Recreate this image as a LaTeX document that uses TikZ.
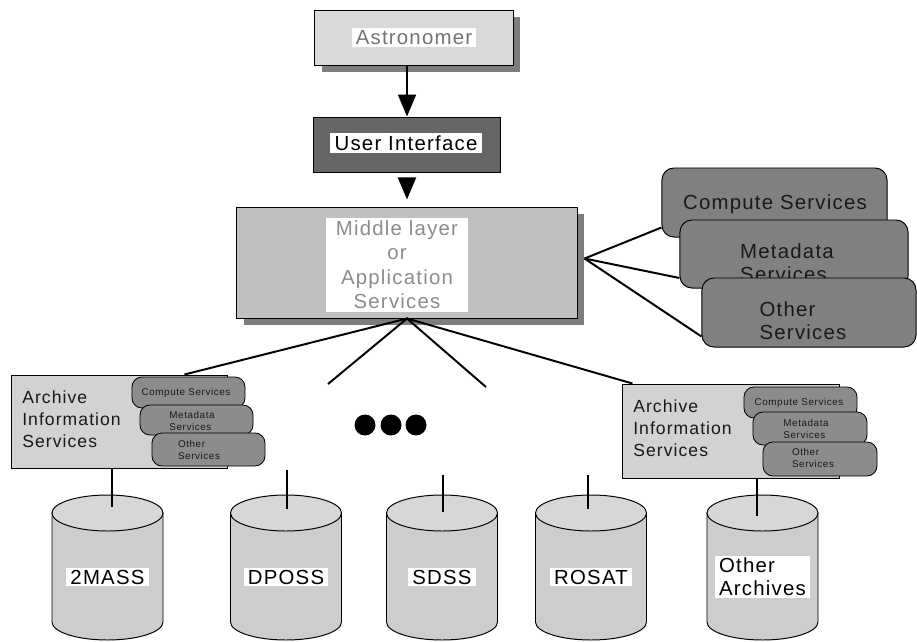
\documentclass[tikz,border=0pt]{standalone}
\usepackage{fontspec}
\setmainfont{Liberation Sans}[LetterSpace=6]
\usetikzlibrary{arrows.meta, shadows, calc}
\definecolor{aback}{RGB}{217,217,217}
\definecolor{ashadow}{RGB}{125,125,125}
\definecolor{uidark}{RGB}{102,102,102}
\definecolor{midgrey}{RGB}{192,192,192}
\definecolor{midtext}{RGB}{140,140,140}
\definecolor{svcgrey}{RGB}{128,128,128}
\definecolor{arclight}{RGB}{210,210,210}
\definecolor{pillgrey}{RGB}{140,140,140}
\definecolor{dbgrey}{RGB}{205,205,205}

\tikzset{
  layerbox/.style={draw=black, line width=0.7pt, rectangle, inner sep=0pt},
  shadowed/.style={general shadow={fill=ashadow, shadow xshift=1.75mm, shadow yshift=-1.75mm}},
  whitelabel/.style={fill=white, inner xsep=3pt, inner ysep=1.5pt, align=center},
  svcbox/.style={draw=black, line width=0.7pt, fill=svcgrey, rounded corners=3mm, inner sep=0pt},
  pill/.style={draw=black, line width=0.6pt, fill=pillgrey, rounded corners=2.5mm, inner sep=0pt},
  pilltext/.style={inner sep=0pt, align=left, text=black!90, font=\fontsize{7}{8}\selectfont},
  svctext/.style={inner sep=0pt, align=left, text=black!90, font=\fontsize{14.5}{16.5}\selectfont},
  arctext/.style={inner sep=0pt, align=left, anchor=north west, text=black!90, font=\fontsize{12.5}{15.8}\selectfont},
  link/.style={line width=1.4pt},
  flow/.style={line width=1.4pt, -{Triangle[width=4.5mm, length=5.5mm]}},
}

\begin{document}
\begin{tikzpicture}[x=0.025cm, y=-0.025cm]
    \useasboundingbox (0,0) rectangle (917,641);

    % astronomer
    \node[layerbox, shadowed, fill=aback, minimum width=4.95cm, minimum height=1.375cm] (astro) at (414,37.5) {};
    \node[whitelabel, text=black!55, font=\fontsize{14.5}{16}\selectfont] (astro txt) at (astro) {Astronomer};

    % user interface
    \node[layerbox, fill=uidark, minimum width=4.65cm, minimum height=1.375cm] (ui) at (407,144.5) {};
    \node[whitelabel, font=\fontsize{14.5}{16}\selectfont] (ui txt) at (406,143) {User Interface};

    % middle layer
    \node[layerbox, shadowed, fill=midgrey, minimum width=8.5cm, minimum height=2.775cm] (middle) at (407,262.5) {};
    \node[whitelabel, inner xsep=7pt, inner ysep=2pt, text=midtext, font=\fontsize{14.5}{17.4}\selectfont] (middle txt) at (397,264.5) {Middle layer\\or\\Application\\Services};

    % arrows
    \draw[flow] (astro.south -| ui.north) -- (ui.north);
    \draw[flow, shorten <=1.25mm, shorten >=1.75mm] (ui.south) -- (middle.north);

    % services on the right
    \node[svcbox, minimum width=5.625cm, minimum height=1.725cm] (comp) at (774.5,202.5) {};
    \node[svctext] (comp txt) at (775,204) {Compute Services};
    \node[svcbox, minimum width=5.7cm, minimum height=1.7cm] (meta) at (794,254) {};
    \node[svctext] (meta txt) at (787,263) {Metadata\\Services};
    \node[svcbox, minimum width=5.35cm, minimum height=1.725cm] (other) at (809,312.5) {};
    \node[svctext] (other txt) at (803,321) {Other\\Services};

    \coordinate (mid r) at ($(middle.east)+(7,-4)$);
    \draw[link] (mid r) -- ($(comp.west)+(0,25)$);
    \draw[link] (mid r) -- ($(meta.west)+(0,24)$);
    \draw[link] (mid r) -- ($(other.west)+(0,24)$);

    % left archive
    \node[layerbox, fill=arclight, minimum width=5.375cm, minimum height=2.325cm] (arcL) at (119.5,421.5) {};
    \node[arctext] (arcL txt) at (22,390) {Archive\\Information\\Services};
    \node[pill, minimum width=2.825cm, minimum height=0.775cm] (compL) at (188.5,392.5) {};
    \node[pilltext] (compL txt) at (186,393) {Compute Services};
    \node[pill, minimum width=2.825cm, minimum height=0.75cm] (metaL) at (196.5,420) {};
    \node[pilltext] (metaL txt) at (192,421) {Metadata\\Services};
    \node[pill, minimum width=2.825cm, minimum height=0.825cm] (othL) at (208.5,449.5) {};
    \node[pilltext] (othL txt) at (199,450) {Other\\Services};

    % right archive
    \node[layerbox, fill=arclight, minimum width=5.4cm, minimum height=2.35cm] (arcR) at (731,431) {};
    \node[arctext] (arcR txt) at (633,399) {Archive\\Information\\Services};
    \node[pill, minimum width=2.825cm, minimum height=0.775cm] (compR) at (800.5,402.5) {};
    \node[pilltext] (compR txt) at (799,403) {Compute Services};
    \node[pill, minimum width=2.85cm, minimum height=0.825cm] (metaR) at (810,428.5) {};
    \node[pilltext] (metaR txt) at (806,429) {Metadata\\Services};
    \node[pill, minimum width=2.85cm, minimum height=0.85cm] (othR) at (820,459) {};
    \node[pilltext] (othR txt) at (813,458) {Other\\Services};

    % fan out to the archives
    \coordinate (gap1) at (328,384);
    \coordinate (gap2) at (486,387);
    \draw[link] ($(arcL.north west)+(173,0)$) -- (middle.south) -- ($(arcR.north west)+(10,0)$);
    \draw[link] (gap1) -- (middle.south) -- (gap2);

    % dots
    \foreach \x in {365,391,416}
        \fill (\x,425) circle[radius=10.5];

    % databases
    \foreach \cx/\lx/\ty/\by/\nm/\lab in {107.5/112/468/507/mass/2MASS, 286/287/470/509/dposs/DPOSS,
            442/443/475/512/sdss/SDSS, 591/588/475/509/rosat/ROSAT, 762.5/757/478/516/oth/{Other\\Archives}} {
        \filldraw[line width=0.7pt, fill=dbgrey] (\cx-55.5,513) -- (\cx-55.5,622)
            arc[start angle=180, end angle=0, x radius=55.5, y radius=18] -- (\cx+55.5,513) -- cycle;
        \filldraw[line width=0.7pt, fill=dbgrey!80] (\cx,513) ellipse[x radius=55.5, y radius=18];
        \node[whitelabel, align=left, font=\fontsize{14.5}{16.5}\selectfont] (\nm) at (\cx,577) {\lab};
        \coordinate (\nm end) at (\lx,\ty);
        \coordinate (\nm hub) at (\lx,\by);
        \draw[link] (\nm end) -- (\nm hub);
    }
\end{tikzpicture}
\end{document}
